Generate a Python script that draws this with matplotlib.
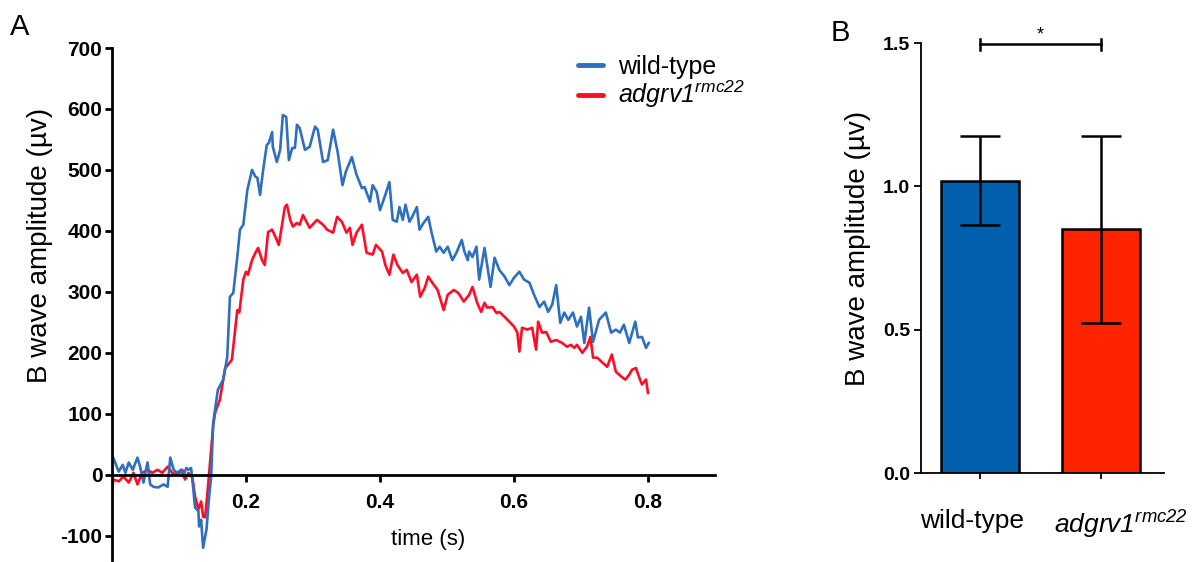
import matplotlib
matplotlib.use("Agg")
import matplotlib.pyplot as plt
import matplotlib.transforms as mtransforms
import numpy as np

# ---- panel A: averaged ERG traces (time in s, amplitude in uV)
wt_time = [0.000, 0.010, 0.016, 0.020, 0.025, 0.031, 0.038, 0.042, 0.047, 0.053,
           0.057, 0.062, 0.069, 0.077, 0.083, 0.087, 0.092, 0.097, 0.103, 0.106,
           0.111, 0.114, 0.118, 0.120, 0.124, 0.129, 0.130, 0.133, 0.136, 0.141,
           0.145, 0.148, 0.151, 0.158, 0.166, 0.172, 0.176, 0.181, 0.187, 0.191,
           0.196, 0.202, 0.209, 0.214, 0.217, 0.221, 0.225, 0.231, 0.234, 0.239,
           0.240, 0.246, 0.251, 0.255, 0.260, 0.264, 0.269, 0.273, 0.276, 0.280,
           0.288, 0.295, 0.303, 0.307, 0.315, 0.322, 0.330, 0.337, 0.344, 0.349,
           0.358, 0.365, 0.373, 0.377, 0.385, 0.389, 0.395, 0.400, 0.407, 0.414,
           0.419, 0.425, 0.429, 0.434, 0.438, 0.444, 0.448, 0.455, 0.459, 0.465,
           0.472, 0.477, 0.484, 0.489, 0.495, 0.501, 0.508, 0.514, 0.522, 0.526,
           0.531, 0.533, 0.538, 0.544, 0.548, 0.556, 0.565, 0.571, 0.578, 0.586,
           0.593, 0.600, 0.608, 0.615, 0.623, 0.630, 0.638, 0.645, 0.651, 0.657,
           0.663, 0.669, 0.675, 0.681, 0.688, 0.694, 0.700, 0.705, 0.712, 0.718,
           0.727, 0.737, 0.745, 0.752, 0.758, 0.764, 0.772, 0.781, 0.785, 0.791,
           0.797, 0.801]
wt_amp = [33, 5, 16, 3, 20, 8, 28, 13, -13, 20,
          -16, -20, -21, -16, -20, 28, 8, 3, 8, -3,
          11, 8, 11, -8, -54, -60, -85, -74, -120, -90,
          -36, -3, 85, 139, 156, 193, 292, 298, 357, 402,
          410, 467, 500, 489, 487, 459, 495, 541, 544, 562,
          538, 513, 533, 590, 587, 516, 536, 536, 574, 569,
          533, 538, 571, 566, 513, 516, 566, 528, 475, 497,
          521, 492, 470, 472, 448, 475, 464, 434, 456, 480,
          418, 415, 439, 418, 443, 415, 423, 439, 402, 413,
          423, 397, 366, 374, 364, 374, 352, 364, 385, 366,
          352, 366, 357, 374, 320, 372, 308, 356, 336, 325,
          311, 323, 333, 320, 315, 295, 275, 284, 267, 279,
          311, 249, 266, 254, 266, 243, 259, 216, 274, 218,
          254, 266, 233, 238, 233, 246, 216, 251, 225, 226,
          208, 216]

mut_time = [0.000, 0.002, 0.010, 0.017, 0.025, 0.032, 0.038, 0.045, 0.053, 0.060,
            0.068, 0.075, 0.083, 0.090, 0.097, 0.105, 0.109, 0.114, 0.120, 0.124,
            0.129, 0.133, 0.136, 0.139, 0.142, 0.151, 0.154, 0.161, 0.169, 0.173,
            0.179, 0.187, 0.190, 0.196, 0.200, 0.203, 0.209, 0.214, 0.218, 0.224,
            0.228, 0.233, 0.239, 0.246, 0.249, 0.258, 0.261, 0.266, 0.270, 0.276,
            0.280, 0.285, 0.295, 0.306, 0.315, 0.321, 0.330, 0.336, 0.343, 0.350,
            0.355, 0.359, 0.365, 0.373, 0.380, 0.389, 0.394, 0.403, 0.408, 0.414,
            0.420, 0.426, 0.434, 0.440, 0.447, 0.455, 0.460, 0.467, 0.472, 0.478,
            0.486, 0.495, 0.501, 0.510, 0.517, 0.525, 0.533, 0.538, 0.545, 0.551,
            0.556, 0.560, 0.568, 0.574, 0.578, 0.586, 0.593, 0.600, 0.605, 0.608,
            0.612, 0.620, 0.627, 0.633, 0.636, 0.642, 0.648, 0.655, 0.663, 0.672,
            0.679, 0.685, 0.690, 0.694, 0.702, 0.709, 0.714, 0.718, 0.724, 0.731,
            0.739, 0.746, 0.752, 0.760, 0.766, 0.772, 0.776, 0.782, 0.788, 0.791,
            0.797, 0.800]
mut_amp = [-28, -8, -11, -3, -13, 3, -16, 3, 8, 3,
           8, 3, 13, 3, 0, 8, -8, 3, -5, -36,
           -57, -44, -69, -70, -36, 80, 102, 123, 175, 180,
           189, 270, 266, 320, 333, 328, 352, 364, 372, 352,
           344, 398, 402, 385, 377, 439, 443, 418, 407, 413,
           410, 426, 405, 418, 410, 402, 397, 423, 415, 397,
           405, 377, 397, 410, 364, 361, 377, 366, 344, 328,
           361, 344, 331, 336, 316, 328, 292, 307, 325, 315,
           303, 270, 295, 303, 298, 284, 295, 308, 282, 267,
           282, 274, 275, 265, 267, 259, 251, 243, 233, 202,
           241, 238, 241, 205, 251, 233, 234, 218, 221, 216,
           210, 213, 208, 213, 200, 210, 226, 192, 192, 185,
           177, 197, 169, 161, 156, 164, 172, 175, 156, 148,
           156, 134]

# ---- panel B: mean B-wave amplitude
groups = ["wild-type", r"$adgrv1^{rmc22}$"]
means = [1.02, 0.85]
errs = [0.155, 0.325]

BLUE_LINE = "#2f6fbf"
RED_LINE = "#ff0d26"
BLUE_BAR = "#0060ae"
RED_BAR = "#ff2400"

plt.rcParams["font.family"] = ["Liberation Sans", "DejaVu Sans"]
plt.rcParams["axes.unicode_minus"] = False
# mathtext is only used for the italic gene name, so make it all italic
plt.rcParams["mathtext.fontset"] = "custom"
plt.rcParams["mathtext.rm"] = "Liberation Sans:italic"
plt.rcParams["mathtext.it"] = "Liberation Sans:italic"
plt.rcParams["mathtext.default"] = "it"

W, H = 1196, 562
fig = plt.figure(figsize=(W / 100, H / 100), dpi=100)

# panel A
ax = fig.add_axes([112 / W, 1 - 560 / H, (715 - 112) / W, (560 - 48) / H])
ax.plot(mut_time, mut_amp, color=RED_LINE, lw=1.9, label=groups[1])
ax.plot(wt_time, wt_amp, color=BLUE_LINE, lw=1.9, label=groups[0])
ax.set_xlim(0, 0.9)
ax.set_ylim(-140, 700)
ax.spines["top"].set_visible(False)
ax.spines["right"].set_visible(False)
ax.spines["bottom"].set_position(("data", 0))
ax.spines["left"].set_linewidth(2)
ax.spines["bottom"].set_linewidth(2)
ax.set_xticks([0.2, 0.4, 0.6, 0.8], labels=["0.2", "0.4", "0.6", "0.8"],
              fontweight="bold", fontsize=15)
ax.set_yticks(range(-100, 701, 100),
              labels=[str(v) for v in range(-100, 701, 100)],
              fontweight="bold", fontsize=15)
ax.tick_params(axis="x", length=5, width=2, pad=8)
ax.tick_params(axis="y", length=5, width=2, pad=2)

handles, labels = ax.get_legend_handles_labels()
leg = ax.legend(handles[::-1], labels[::-1], loc="upper left",
                bbox_to_anchor=(578 / W, 1 - 55 / H),
                bbox_transform=fig.transFigure, frameon=False, fontsize=18,
                handlelength=1.0, handletextpad=0.6, labelspacing=0.0,
                borderaxespad=0, borderpad=0)
for ln in leg.get_lines():
    ln.set_linewidth(3.5)
    ln.set_solid_capstyle("round")

fig.text(40 / W, 1 - 245 / H, "B wave amplitude (\u00b5v)", rotation=90,
         ha="center", va="center", fontsize=20)
fig.text(428 / W, 1 - 540 / H, "time (s)", ha="center", va="center",
         fontsize=16)
fig.text(20 / W, 1 - 27 / H, "A", ha="center", va="center", fontsize=21)

# panel B
bx = fig.add_axes([921 / W, 1 - 473 / H, (1164 - 921) / W, (473 - 43) / H])
pos = np.arange(len(groups))
bx.bar(pos, means, width=0.645, color=[BLUE_BAR, RED_BAR],
       edgecolor="black", linewidth=1.8, zorder=2)
bx.errorbar(pos, means, yerr=errs, fmt="none", ecolor="black",
            elinewidth=1.8, capsize=14.5, capthick=1.8, zorder=3)
bx.set_xlim(-0.488, 1.52)
bx.set_ylim(0, 1.5)
bx.spines["top"].set_visible(False)
bx.spines["right"].set_visible(False)
bx.spines["left"].set_linewidth(1.3)
bx.spines["bottom"].set_linewidth(1.3)
bx.set_yticks([0.0, 0.5, 1.0, 1.5], labels=["0.0", "0.5", "1.0", "1.5"],
              fontweight="bold", fontsize=14)
bx.set_xticks(pos, labels=groups, fontsize=19)
bx.tick_params(axis="x", length=4, width=1.3, pad=22)
bx.tick_params(axis="y", length=5, width=1.3, pad=3)
# nudge category labels apart like the original layout
for lab, dx in zip(bx.get_xticklabels(), [-8, 20]):
    lab.set_transform(lab.get_transform() +
                      mtransforms.ScaledTranslation(dx / 100, 0,
                                                    fig.dpi_scale_trans))

# significance bracket between the two bars
bracket_y = 1.495
bx.plot([pos[0], pos[1]], [bracket_y, bracket_y], color="black", lw=1.8,
        clip_on=False)
for p in pos:
    bx.plot([p, p], [bracket_y - 0.018, bracket_y + 0.018], color="black",
            lw=1.8, clip_on=False)
bx.text(pos.mean(), bracket_y + 0.005, "*", ha="center", va="bottom",
        fontsize=13)

fig.text(858 / W, 1 - 248 / H, "B wave amplitude (\u00b5v)", rotation=90,
         ha="center", va="center", fontsize=20)
fig.text(840 / W, 1 - 33 / H, "B", ha="center", va="center", fontsize=21)

fig.savefig("out.png", dpi=100)
